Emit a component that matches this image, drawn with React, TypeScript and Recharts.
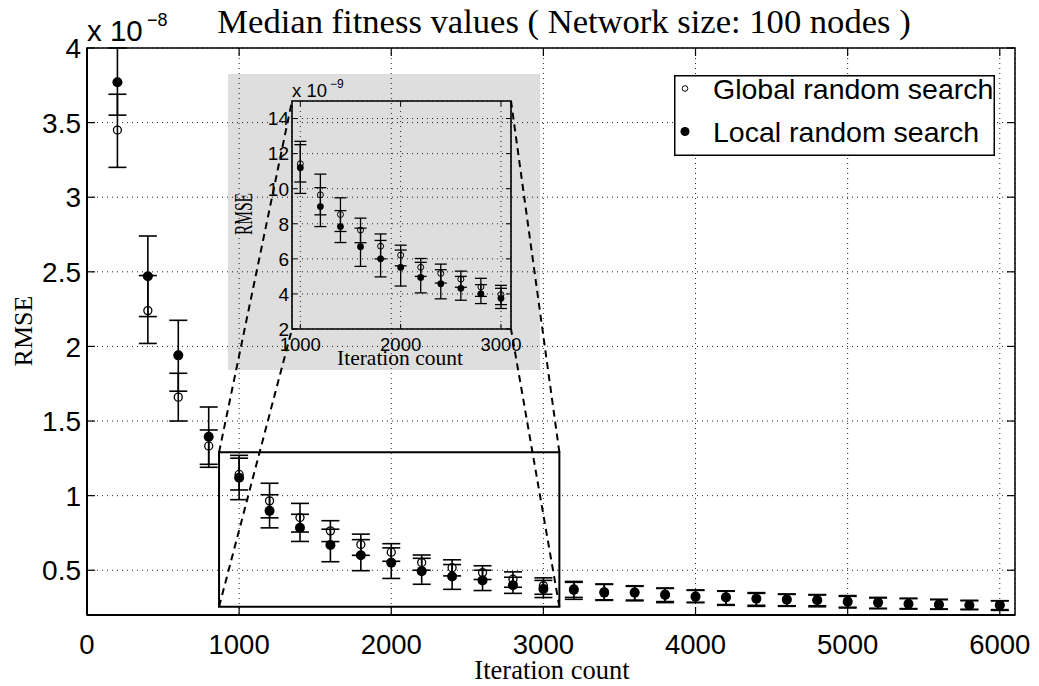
import React from 'react';
import {
  ComposedChart,
  Scatter,
  ErrorBar,
  XAxis,
  YAxis,
  CartesianGrid,
  ReferenceArea,
  ReferenceLine,
  Legend,
} from 'recharts';

// ---------------- data (RMSE in units of 1e-8) ----------------
const ITERATIONS = [
  200, 400, 600, 800, 1000, 1200, 1400, 1600, 1800, 2000, 2200, 2400, 2600, 2800, 3000,
  3200, 3400, 3600, 3800, 4000, 4200, 4400, 4600, 4800, 5000, 5200, 5400, 5600, 5800, 6000,
];
const LOCAL_MEDIAN = [
  3.77, 2.47, 1.94, 1.395, 1.12, 0.898, 0.784, 0.669, 0.6, 0.551, 0.494, 0.458, 0.432, 0.4, 0.375,
  0.368, 0.35, 0.35, 0.334, 0.323, 0.318, 0.309, 0.303, 0.299, 0.289, 0.283, 0.274, 0.269, 0.265, 0.265,
];
const LOCAL_LOW = [
  3.55, 2.2, 1.7, 1.19, 0.973, 0.784, 0.693, 0.557, 0.497, 0.445, 0.406, 0.372, 0.364, 0.345, 0.317,
  0.305, 0.298, 0.295, 0.283, 0.285, 0.265, 0.258, 0.258, 0.255, 0.247, 0.242, 0.24, 0.238, 0.238, 0.231,
];
const LOCAL_HIGH = [
  4.0, 2.74, 2.175, 1.594, 1.27, 1.006, 0.875, 0.775, 0.705, 0.65, 0.58, 0.538, 0.5, 0.453, 0.432,
  0.419, 0.408, 0.396, 0.381, 0.368, 0.359, 0.345, 0.341, 0.334, 0.325, 0.314, 0.312, 0.305, 0.296, 0.296,
];
const GLOBAL_MEDIAN = [
  3.45, 2.24, 1.66, 1.333, 1.142, 0.965, 0.853, 0.764, 0.672, 0.621, 0.552, 0.517, 0.484, 0.44, 0.396,
  0.375, 0.355, 0.352, 0.34, 0.326, 0.322, 0.312, 0.306, 0.303, 0.294, 0.285, 0.277, 0.272, 0.267, 0.268,
];
const GLOBAL_LOW = [
  3.2, 2.02, 1.5, 1.21, 1.038, 0.851, 0.756, 0.692, 0.6, 0.56, 0.5, 0.462, 0.438, 0.386, 0.339,
  0.318, 0.302, 0.3, 0.29, 0.283, 0.27, 0.265, 0.262, 0.262, 0.252, 0.245, 0.243, 0.24, 0.236, 0.236,
];
const GLOBAL_HIGH = [
  3.69, 2.475, 1.82, 1.44, 1.251, 1.083, 0.948, 0.832, 0.742, 0.678, 0.602, 0.57, 0.53, 0.489, 0.449,
  0.425, 0.405, 0.392, 0.378, 0.365, 0.362, 0.35, 0.338, 0.337, 0.33, 0.318, 0.31, 0.303, 0.298, 0.295,
];

const SERIES_NAMES = ['Global random search', 'Local random search'];
const TITLE = 'Median fitness values ( Network size: 100 nodes )';
const X_LABEL = 'Iteration count';
const Y_LABEL = 'RMSE';

const X_DOMAIN = [0, 6100];
const Y_DOMAIN = [0.2, 4];
const X_TICKS = [0, 1000, 2000, 3000, 4000, 5000, 6000];
const Y_TICKS = [0.5, 1, 1.5, 2, 2.5, 3, 3.5, 4];

// zoom window shown in the inset (main-chart data units)
const ZOOM_X = [868, 3105];
const ZOOM_Y = [0.256, 1.29];

// inset (units of 1e-9)
const INSET_X_RANGE = [1000, 3000];
const INSET_SCALE = 10;
const INSET_X_DOMAIN = [917, 3100];
const INSET_Y_DOMAIN = [2, 15];
const INSET_X_TICKS = [1000, 2000, 3000];
const INSET_Y_TICKS = [2, 4, 6, 8, 10, 12, 14];

// ---------------- layout ----------------
const W = 1039;
const H = 686;
const PLOT = { left: 87, right: 1015, top: 48, bottom: 615 };
const INSET_BOX = { left: 228, top: 74, width: 312, height: 296 };
const INSET_PLOT = { left: 64, right: 283, top: 27, bottom: 255 }; // relative to inset box
const SANS = "'Liberation Sans', Arial, Helvetica, sans-serif";
const SERIF = "'Liberation Serif', 'Times New Roman', serif";

const build = (med: number[], low: number[], high: number[], scale = 1, filter?: number[]) =>
  ITERATIONS.map((x, i) => ({
    x,
    y: med[i] * scale,
    err: [(med[i] - low[i]) * scale, (high[i] - med[i]) * scale],
  })).filter((d) => !filter || (d.x >= filter[0] && d.x <= filter[1]));

const globalData = build(GLOBAL_MEDIAN, GLOBAL_LOW, GLOBAL_HIGH);
const localData = build(LOCAL_MEDIAN, LOCAL_LOW, LOCAL_HIGH);
const insetGlobal = build(GLOBAL_MEDIAN, GLOBAL_LOW, GLOBAL_HIGH, INSET_SCALE, INSET_X_RANGE);
const insetLocal = build(LOCAL_MEDIAN, LOCAL_LOW, LOCAL_HIGH, INSET_SCALE, INSET_X_RANGE);

// pixel -> main data coordinates (for the zoom connector lines)
const pxToX = (px: number) =>
  X_DOMAIN[0] + ((px - PLOT.left) / (PLOT.right - PLOT.left)) * (X_DOMAIN[1] - X_DOMAIN[0]);
const pxToY = (py: number) =>
  Y_DOMAIN[1] - ((py - PLOT.top) / (PLOT.bottom - PLOT.top)) * (Y_DOMAIN[1] - Y_DOMAIN[0]);

const insetAbs = {
  left: INSET_BOX.left + INSET_PLOT.left,
  right: INSET_BOX.left + INSET_PLOT.right,
  top: INSET_BOX.top + INSET_PLOT.top,
  bottom: INSET_BOX.top + INSET_PLOT.bottom,
};

const connectors = [
  [{ x: ZOOM_X[0], y: ZOOM_Y[1] }, { x: pxToX(insetAbs.left), y: pxToY(insetAbs.top) }],
  [{ x: ZOOM_X[0], y: ZOOM_Y[0] }, { x: pxToX(insetAbs.left), y: pxToY(insetAbs.bottom) }],
  [{ x: ZOOM_X[1], y: ZOOM_Y[1] }, { x: pxToX(insetAbs.right), y: pxToY(insetAbs.top) }],
  [{ x: ZOOM_X[1], y: ZOOM_Y[0] }, { x: pxToX(insetAbs.right), y: pxToY(insetAbs.bottom) }],
];

// ---------------- shapes & ticks ----------------
const OpenDot = (r: number, sw: number) => (p: any) =>
  <circle cx={p.cx} cy={p.cy} r={r} fill="none" stroke="#000" strokeWidth={sw} />;
const FilledDot = (r: number) => (p: any) => <circle cx={p.cx} cy={p.cy} r={r} fill="#000" />;

const MainYTick = (p: any) => (
  <g>
    <text x={p.x} y={p.y} dy="0.36em" textAnchor="end" fontSize={28} fontFamily={SANS} fill="#000">
      {String(p.payload.value)}
    </text>
    <line x1={PLOT.left} x2={PLOT.left + 8} y1={p.y} y2={p.y} stroke="#000" strokeWidth={1.2} />
    <line x1={PLOT.right - 8} x2={PLOT.right} y1={p.y} y2={p.y} stroke="#000" strokeWidth={1.2} />
  </g>
);
const MainXTick = (p: any) => (
  <g>
    <text x={p.x} y={p.y} dy="0.71em" textAnchor="middle" fontSize={27.5} fontFamily={SANS} fill="#000">
      {String(p.payload.value)}
    </text>
    <line x1={p.x} x2={p.x} y1={PLOT.bottom} y2={PLOT.bottom - 8} stroke="#000" strokeWidth={1.2} />
    <line x1={p.x} x2={p.x} y1={PLOT.top} y2={PLOT.top + 8} stroke="#000" strokeWidth={1.2} />
  </g>
);
const InsetYTick = (p: any) => (
  <g>
    <text x={p.x} y={p.y} dy="0.36em" textAnchor="end" fontSize={19} fontFamily={SANS} fill="#000">
      {String(p.payload.value)}
    </text>
    <line x1={INSET_PLOT.left} x2={INSET_PLOT.left + 5} y1={p.y} y2={p.y} stroke="#000" strokeWidth={1} />
    <line x1={INSET_PLOT.right - 5} x2={INSET_PLOT.right} y1={p.y} y2={p.y} stroke="#000" strokeWidth={1} />
  </g>
);
const InsetXTick = (p: any) => (
  <g>
    <text x={p.x} y={p.y} dy="0.71em" textAnchor="middle" fontSize={18.5} fontFamily={SANS} fill="#000">
      {String(p.payload.value)}
    </text>
    <line x1={p.x} x2={p.x} y1={INSET_PLOT.bottom} y2={INSET_PLOT.bottom - 5} stroke="#000" strokeWidth={1} />
    <line x1={p.x} x2={p.x} y1={INSET_PLOT.top} y2={INSET_PLOT.top + 5} stroke="#000" strokeWidth={1} />
  </g>
);

const LegendBox = () => (
  <svg width={321} height={81} style={{ overflow: 'visible', display: 'block' }}>
    <rect x={0.75} y={0.75} width={319.5} height={79.5} fill="#fff" stroke="#000" strokeWidth={1.5} />
    {SERIES_NAMES.map((name, i) => (
      <g key={name}>
        {i === 0 ? (
          <circle cx={11} cy={13.5} r={2.8} fill="none" stroke="#000" strokeWidth={1} />
        ) : (
          <circle cx={11} cy={56.5} r={4.5} fill="#000" />
        )}
        <text x={39} y={24 + i * 43} fontSize={28.5} fontFamily={SANS} fill="#000">
          {name}
        </text>
      </g>
    ))}
  </svg>
);

const GRID = { stroke: '#222', strokeDasharray: '1 4', strokeWidth: 1 };

export default function App() {
  return (
    <div style={{ position: 'absolute', left: 0, top: 0, width: W, height: H, background: '#fff' }}>
      <div style={{ position: 'absolute', left: 0, top: 0 }}>
        <ComposedChart width={W} height={H} margin={{ top: 48, right: 24, bottom: 41, left: 27 }}>
          <CartesianGrid {...GRID} />
          <XAxis
            type="number"
            dataKey="x"
            domain={X_DOMAIN}
            ticks={X_TICKS}
            interval={0}
            allowDataOverflow
            height={30}
            tickSize={0}
            tickMargin={19}
            tickLine={false}
            axisLine={{ stroke: '#000', strokeWidth: 2 }}
            tick={(p: any) => <MainXTick {...p} />}
          />
          <YAxis
            type="number"
            dataKey="y"
            domain={Y_DOMAIN}
            ticks={Y_TICKS}
            interval={0}
            allowDataOverflow
            width={60}
            tickSize={0}
            tickMargin={6}
            tickLine={false}
            axisLine={{ stroke: '#000', strokeWidth: 2 }}
            tick={(p: any) => <MainYTick {...p} />}
          />
          <ReferenceArea
            x1={X_DOMAIN[0]}
            x2={X_DOMAIN[1]}
            y1={Y_DOMAIN[0]}
            y2={Y_DOMAIN[1]}
            fill="none"
            fillOpacity={0}
            stroke="#000"
            strokeWidth={1.5}
          />
          <ReferenceArea
            x1={ZOOM_X[0]}
            x2={ZOOM_X[1]}
            y1={ZOOM_Y[0]}
            y2={ZOOM_Y[1]}
            fill="none"
            fillOpacity={0}
            stroke="#000"
            strokeWidth={2}
          />
          {connectors.map((seg, i) => (
            <ReferenceLine
              key={i}
              segment={seg}
              stroke="#000"
              strokeWidth={2}
              strokeDasharray="7 5"
              ifOverflow="visible"
            />
          ))}
          <Scatter
            name={SERIES_NAMES[0]}
            data={globalData}
            isAnimationActive={false}
            shape={OpenDot(4, 1.3)}
          >
            <ErrorBar dataKey="err" direction="y" width={9} stroke="#000" strokeWidth={1.6} isAnimationActive={false} />
          </Scatter>
          <Scatter
            name={SERIES_NAMES[1]}
            data={localData}
            isAnimationActive={false}
            shape={FilledDot(5)}
          >
            <ErrorBar dataKey="err" direction="y" width={9} stroke="#000" strokeWidth={1.6} isAnimationActive={false} />
          </Scatter>
          <Legend
            layout="horizontal"
            verticalAlign="middle"
            align="center"
            wrapperStyle={{ left: 674, top: 75, width: 321, height: 81 }}
            content={() => <LegendBox />}
          />
        </ComposedChart>
      </div>

      <svg
        width={W}
        height={H}
        style={{ position: 'absolute', left: 0, top: 0, pointerEvents: 'none' }}
      >
        <text x={564} y={33} textAnchor="middle" fontSize={34.6} fontFamily={SERIF} fill="#000">
          {TITLE}
        </text>
        <text x={87} y={41} fontSize={29.5} fontFamily={SANS} fill="#000">
          x 10
        </text>
        <text x={147} y={26} fontSize={18} fontFamily={SANS} fill="#000">
          −8
        </text>
        <text
          x={23}
          y={331}
          transform="rotate(-90 23 331)"
          textAnchor="middle"
          dominantBaseline="central"
          fontSize={26}
          fontFamily={SERIF}
          fill="#000"
        >
          {Y_LABEL}
        </text>
        <text x={552} y={679} textAnchor="middle" fontSize={26.5} fontFamily={SERIF} fill="#000">
          {X_LABEL}
        </text>
      </svg>

      <div
        style={{
          position: 'absolute',
          left: INSET_BOX.left,
          top: INSET_BOX.top,
          width: INSET_BOX.width,
          height: INSET_BOX.height,
          background: 'rgba(0,0,0,0.13)',
        }}
      >
        <ComposedChart
          width={INSET_BOX.width}
          height={INSET_BOX.height}
          margin={{ top: INSET_PLOT.top, right: INSET_BOX.width - INSET_PLOT.right, bottom: 11, left: 14 }}
        >
          <CartesianGrid {...GRID} />
          <XAxis
            type="number"
            dataKey="x"
            domain={INSET_X_DOMAIN}
            ticks={INSET_X_TICKS}
            interval={0}
            allowDataOverflow
            height={30}
            tickSize={0}
            tickMargin={9}
            tickLine={false}
            axisLine={false}
            tick={(p: any) => <InsetXTick {...p} />}
          />
          <YAxis
            type="number"
            dataKey="y"
            domain={INSET_Y_DOMAIN}
            ticks={INSET_Y_TICKS}
            interval={0}
            allowDataOverflow
            width={50}
            tickSize={0}
            tickMargin={3}
            tickLine={false}
            axisLine={false}
            tick={(p: any) => <InsetYTick {...p} />}
          />
          <ReferenceArea
            x1={INSET_X_DOMAIN[0]}
            x2={INSET_X_DOMAIN[1]}
            y1={INSET_Y_DOMAIN[0]}
            y2={INSET_Y_DOMAIN[1]}
            fill="none"
            fillOpacity={0}
            stroke="#000"
            strokeWidth={1.6}
          />
          <Scatter name={SERIES_NAMES[0]} data={insetGlobal} isAnimationActive={false} shape={OpenDot(3, 1)}>
            <ErrorBar dataKey="err" direction="y" width={6} stroke="#000" strokeWidth={1.3} isAnimationActive={false} />
          </Scatter>
          <Scatter name={SERIES_NAMES[1]} data={insetLocal} isAnimationActive={false} shape={FilledDot(3.4)}>
            <ErrorBar dataKey="err" direction="y" width={6} stroke="#000" strokeWidth={1.3} isAnimationActive={false} />
          </Scatter>
        </ComposedChart>
        <svg
          width={INSET_BOX.width}
          height={INSET_BOX.height}
          style={{ position: 'absolute', left: 0, top: 0, pointerEvents: 'none' }}
        >
          <text x={64} y={23} fontSize={18.5} fontFamily={SANS} fill="#000">
            x 10
          </text>
          <text x={102} y={14} fontSize={12} fontFamily={SANS} fill="#000">
            −9
          </text>
          <text
            x={15}
            y={140}
            transform="rotate(-90 15 140)"
            textAnchor="middle"
            dominantBaseline="central"
            fontSize={25}
            fontFamily={SERIF}
            textLength={42}
            lengthAdjust="spacingAndGlyphs"
            fill="#000"
          >
            {Y_LABEL}
          </text>
          <text x={172} y={291} textAnchor="middle" fontSize={21.5} fontFamily={SERIF} fill="#000">
            {X_LABEL}
          </text>
        </svg>
      </div>
    </div>
  );
}
